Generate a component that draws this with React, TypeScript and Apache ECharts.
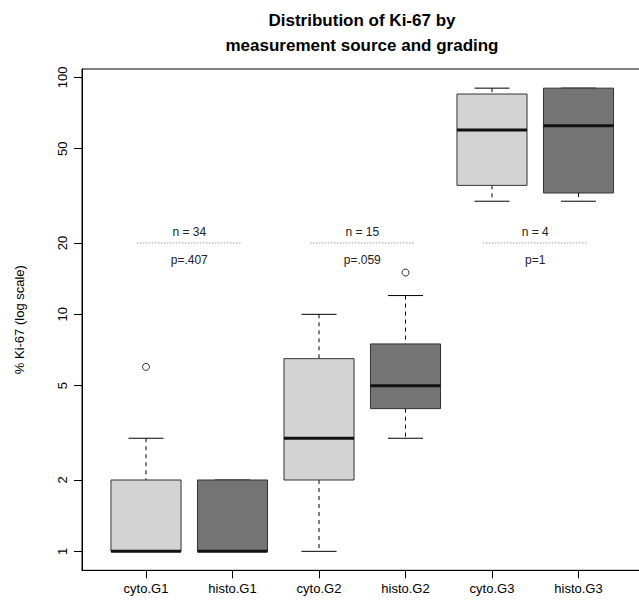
import React, { useEffect, useRef } from 'react';
import * as echarts from 'echarts';

const categories = ['cyto.G1', 'histo.G1', 'cyto.G2', 'histo.G2', 'cyto.G3', 'histo.G3'];
const whiskerLow = [1, 1, 1, 3, 30, 30];
const lowerHinge = [1, 1, 2, 4, 35, 32.5];
const medians = [1, 1, 3, 5, 60, 62.5];
const upperHinge = [2, 2, 6.5, 7.5, 85, 90];
const whiskerHigh = [3, 2, 10, 12, 90, 90];
const outlierCategory = [0, 3];
const outlierValue = [6, 15];
const groupCenter = [0.5, 2.5, 4.5];
const groupCount = ['n = 34', 'n = 15', 'n = 4'];
const groupPValue = ['p=.407', 'p=.059', 'p=1'];
const referenceLevel = 20;
const yTickValues = [1, 2, 5, 10, 20, 50, 100];
const titleLines = ['Distribution of Ki-67 by', 'measurement source and grading'];
const yAxisTitle = '% Ki-67 (log scale)';

const FONT = '"Liberation Sans", Arial, Helvetica, sans-serif';
const lg = (v: number) => Math.log10(v);

export default function App() {
  const ref = useRef<HTMLDivElement>(null);
  useEffect(() => {
    if (!ref.current) return;
    const chart = echarts.init(ref.current, undefined, { renderer: 'svg' });

    const boxData = categories.map((_, i) => [
      i,
      lg(whiskerLow[i]),
      lg(lowerHinge[i]),
      lg(medians[i]),
      lg(upperHinge[i]),
      lg(whiskerHigh[i]),
    ]);
    const outlierData = outlierCategory.map((c, i) => [c, lg(outlierValue[i])]);
    const annotData = groupCenter.map((x, i) => [x, lg(referenceLevel), i]);
    const yTicks = yTickValues.map(lg);
    const xTicks = categories.map((_, i) => i);

    const option: any = {
      animation: false,
      backgroundColor: '#ffffff',
      title: {
        text: titleLines.join('\n'),
        left: 362,
        top: 7.5,
        padding: 0,
        textAlign: 'center',
        textStyle: {
          fontSize: 17,
          fontWeight: 'bold',
          fontFamily: FONT,
          color: '#000',
          lineHeight: 25,
        },
      },
      grid: {
        left: 82,
        top: 69,
        width: 560.5,
        height: 501.3,
        show: true,
        borderColor: '#000',
        borderWidth: 1,
        backgroundColor: 'transparent',
        containLabel: false,
        outerBoundsMode: 'none',
      },
      xAxis: {
        type: 'value',
        min: -0.74,
        max: 5.74,
        splitLine: { show: false },
        axisLine: { show: true, onZero: false, lineStyle: { color: '#000', width: 1 } },
        axisTick: { show: true, length: 8, customValues: xTicks, lineStyle: { color: '#000' } },
        axisLabel: {
          customValues: xTicks,
          formatter: (v: number) => categories[Math.round(v)],
          fontSize: 13,
          fontFamily: FONT,
          color: '#000',
          margin: 12,
        },
      },
      yAxis: {
        type: 'value',
        min: -0.08,
        max: 2.035,
        splitLine: { show: false },
        axisLine: { show: true, onZero: false, lineStyle: { color: '#000', width: 1 } },
        axisTick: { show: true, length: 8, customValues: yTicks, lineStyle: { color: '#000' } },
        axisLabel: {
          customValues: yTicks,
          formatter: (v: number) => String(Math.round(Math.pow(10, v))),
          rotate: 90,
          fontSize: 13,
          fontFamily: FONT,
          color: '#000',
          margin: 13,
        },
        name: yAxisTitle,
        nameLocation: 'middle',
        nameGap: 56,
        nameTextStyle: { fontSize: 13, fontFamily: FONT, color: '#000' },
      },
      series: [
        {
          type: 'custom',
          clip: false,
          data: boxData,
          itemStyle: { color: '#000' },
          encode: { x: 0, y: [1, 2, 3, 4, 5] },
          renderItem: (params: any, api: any) => {
            const x = api.value(0);
            const lo = api.value(1);
            const h1 = api.value(2);
            const md = api.value(3);
            const h3 = api.value(4);
            const hi = api.value(5);
            const half = 0.405;
            const cap = 0.2025;
            const c = (xx: number, yy: number) => api.coord([xx, yy]);
            const fill = Math.round(x) % 2 === 0 ? '#d3d3d3' : '#747474';
            const pTL = c(x - half, h3);
            const pBR = c(x + half, h1);
            const pHi = c(x, hi);
            const pH3 = c(x, h3);
            const pH1 = c(x, h1);
            const pLo = c(x, lo);
            const capHiL = c(x - cap, hi);
            const capHiR = c(x + cap, hi);
            const capLoL = c(x - cap, lo);
            const capLoR = c(x + cap, lo);
            const mL = c(x - half, md);
            const mR = c(x + half, md);
            return {
              type: 'group',
              children: [
                {
                  type: 'line',
                  shape: { x1: pHi[0], y1: pHi[1], x2: pH3[0], y2: pH3[1] },
                  style: { stroke: '#000', lineWidth: 1, lineDash: [4, 4] },
                },
                {
                  type: 'line',
                  shape: { x1: pH1[0], y1: pH1[1], x2: pLo[0], y2: pLo[1] },
                  style: { stroke: '#000', lineWidth: 1, lineDash: [4, 4] },
                },
                {
                  type: 'line',
                  shape: { x1: capHiL[0], y1: capHiL[1], x2: capHiR[0], y2: capHiR[1] },
                  style: { stroke: '#000', lineWidth: 1 },
                },
                {
                  type: 'line',
                  shape: { x1: capLoL[0], y1: capLoL[1], x2: capLoR[0], y2: capLoR[1] },
                  style: { stroke: '#000', lineWidth: 1 },
                },
                {
                  type: 'rect',
                  shape: { x: pTL[0], y: pTL[1], width: pBR[0] - pTL[0], height: pBR[1] - pTL[1] },
                  style: { fill, stroke: '#333', lineWidth: 1 },
                },
                {
                  type: 'line',
                  shape: { x1: mL[0], y1: mL[1], x2: mR[0], y2: mR[1] },
                  style: { stroke: '#111', lineWidth: 3 },
                },
              ],
            };
          },
        },
        {
          type: 'scatter',
          data: outlierData,
          symbol: 'circle',
          symbolSize: 7,
          itemStyle: { color: 'rgba(0,0,0,0)', borderColor: '#000', borderWidth: 1 },
          z: 3,
        },
        {
          type: 'custom',
          clip: false,
          data: annotData,
          itemStyle: { color: '#222' },
          encode: { x: 0, y: 1 },
          renderItem: (params: any, api: any) => {
            const x = api.value(0);
            const y = api.value(1);
            const idx = api.value(2);
            const left = api.coord([x - 0.6, y]);
            const right = api.coord([x + 0.6, y]);
            const mid = api.coord([x, y]);
            return {
              type: 'group',
              children: [
                {
                  type: 'line',
                  shape: { x1: left[0], y1: left[1], x2: right[0], y2: right[1] },
                  style: { stroke: '#666', lineWidth: 1, lineDash: [1, 2] },
                },
                {
                  type: 'text',
                  style: {
                    text: groupCount[idx],
                    x: mid[0],
                    y: mid[1] - 11,
                    align: 'center',
                    verticalAlign: 'middle',
                    fontSize: 12,
                    fontFamily: FONT,
                    fill: '#222222',
                  },
                },
                {
                  type: 'text',
                  style: {
                    text: groupPValue[idx],
                    x: mid[0],
                    y: mid[1] + 17.5,
                    align: 'center',
                    verticalAlign: 'middle',
                    fontSize: 12,
                    fontFamily: FONT,
                    fill: '#222222',
                  },
                },
              ],
            };
          },
        },
      ],
    };
    chart.setOption(option);
    return () => chart.dispose();
  }, []);
  return (
    <div
      ref={ref}
      style={{ position: 'fixed', left: 0, top: 0, width: 639, height: 609 }}
    />
  );
}
